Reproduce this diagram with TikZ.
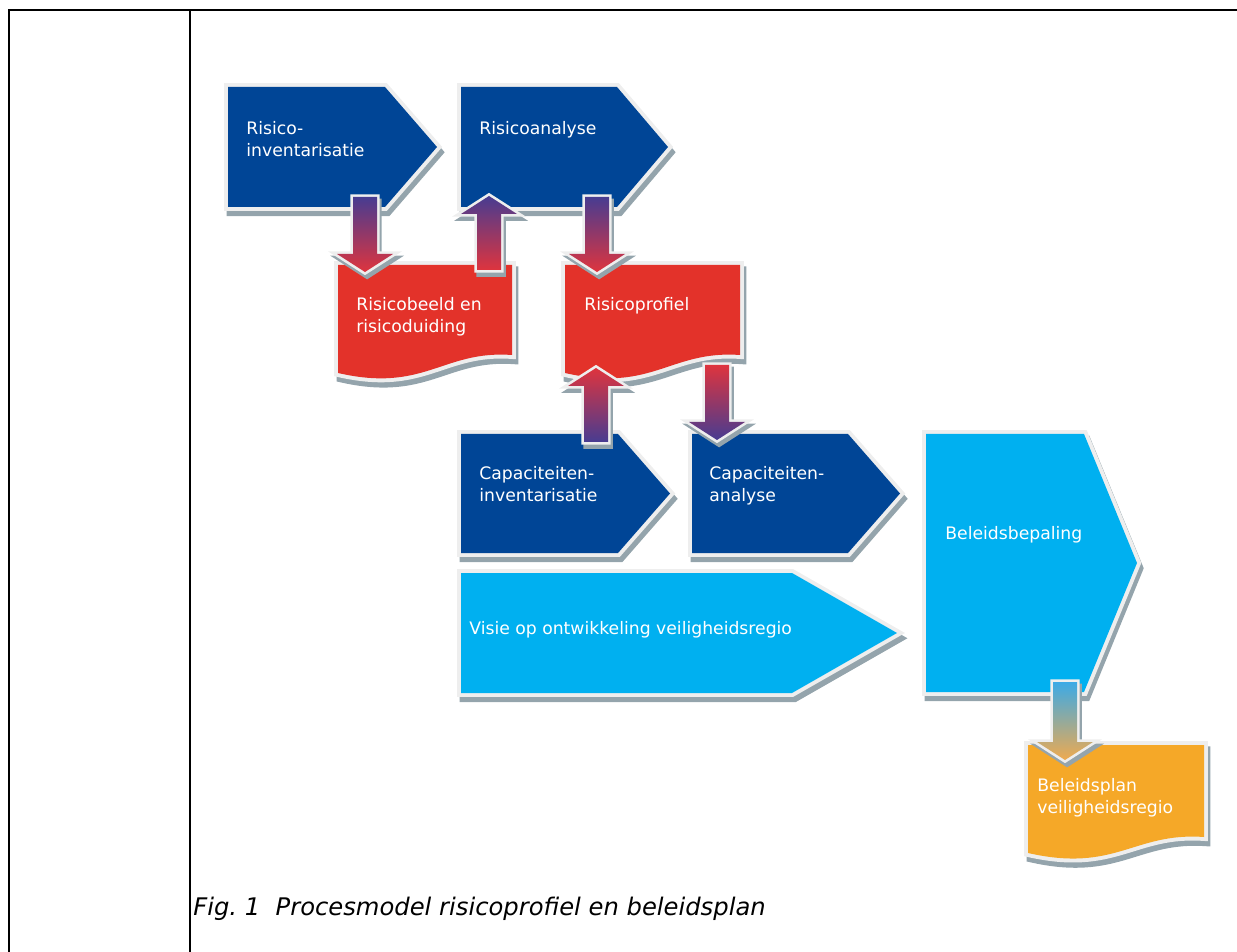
\documentclass[tikz,border=0pt]{standalone}
\usepackage{fontspec}
\setmainfont{DejaVu Sans}[ItalicFont={DejaVu Sans Oblique}]
\usepackage{xcolor}
\usetikzlibrary{calc}

\definecolor{rdblue}{RGB}{0,69,150}
\definecolor{rdred}{RGB}{227,50,42}
\definecolor{rlblue}{RGB}{0,176,240}
\definecolor{rorange}{RGB}{245,168,40}
\definecolor{rpurple}{RGB}{72,60,145}
\definecolor{rarrowred}{RGB}{222,52,62}
\definecolor{rarrowblue}{RGB}{60,170,230}
\definecolor{rarroworange}{RGB}{238,170,80}
\definecolor{rshade}{RGB}{148,164,172}
\definecolor{rrim}{RGB}{238,238,238}

% process step: left, top, start of slant, tip, bottom, colour
\newcommand{\procshape}[6]{%
  \filldraw[rshade, line width=4.5pt, line join=miter, transform canvas={xshift=1.4pt,yshift=-3pt}]
    (#1,#2) -- (#3,#2) -- (#4,{(#2+#5)/2}) -- (#3,#5) -- (#1,#5) -- cycle;
  \draw[rrim, line width=4.5pt, line join=miter]
    (#1,#2) -- (#3,#2) -- (#4,{(#2+#5)/2}) -- (#3,#5) -- (#1,#5) -- cycle;
  \fill[#6] (#1,#2) -- (#3,#2) -- (#4,{(#2+#5)/2}) -- (#3,#5) -- (#1,#5) -- cycle;
}

% document: left, top, right, bottom left, bottom right, colour
\newcommand{\docshape}[6]{%
  \filldraw[rshade, line width=4.5pt, transform canvas={xshift=1.4pt,yshift=-3pt}]
    (#1,#2) -- (#3,#2) -- (#3,#5) .. controls ({#3-0.4*(#3-#1)},{#5-5}) and ({#1+0.5*(#3-#1)},{#4+20}) .. (#1,#4) -- cycle;
  \draw[rrim, line width=4.5pt]
    (#1,#2) -- (#3,#2) -- (#3,#5) .. controls ({#3-0.4*(#3-#1)},{#5-5}) and ({#1+0.5*(#3-#1)},{#4+20}) .. (#1,#4) -- cycle;
  \fill[#6] (#1,#2) -- (#3,#2) -- (#3,#5) .. controls ({#3-0.4*(#3-#1)},{#5-5}) and ({#1+0.5*(#3-#1)},{#4+20}) .. (#1,#4) -- cycle;
}

% fat arrow: name, x, from y, to y, top colour, bottom colour
\newcommand{\fatarrow}[6]{%
  \pgfmathsetmacro{\hd}{-18*sign(#4-#3)}
  \coordinate (#1s) at (#2,#3);
  \coordinate (#1t) at (#2,#4);
  \filldraw[rshade, line width=3pt, line join=miter, transform canvas={xshift=1.2pt,yshift=-2.4pt}]
    ($(#1s)+(-12,0)$) -- ($(#1t)+(-12,\hd)$) -- ($(#1t)+(-28,\hd)$) -- (#1t)
    -- ($(#1t)+(28,\hd)$) -- ($(#1t)+(12,\hd)$) -- ($(#1s)+(12,0)$) -- cycle;
  \draw[rrim, line width=3pt, line join=miter]
    ($(#1s)+(-12,0)$) -- ($(#1t)+(-12,\hd)$) -- ($(#1t)+(-28,\hd)$) -- (#1t)
    -- ($(#1t)+(28,\hd)$) -- ($(#1t)+(12,\hd)$) -- ($(#1s)+(12,0)$) -- cycle;
  \shade[top color=#5, bottom color=#6]
    ($(#1s)+(-12,0)$) -- ($(#1t)+(-12,\hd)$) -- ($(#1t)+(-28,\hd)$) -- (#1t)
    -- ($(#1t)+(28,\hd)$) -- ($(#1t)+(12,\hd)$) -- ($(#1s)+(12,0)$) -- cycle;
}

\begin{document}
\begin{tikzpicture}[x=0.02cm, y=-0.02cm,
    lbl/.style={anchor=north west, inner sep=0pt, text=white, align=left,
      font=\fontsize{9.8}{12.5}\selectfont},
    frame/.style={line width=1.2pt}]
    \useasboundingbox (0,0) rectangle (1237,952);

    % table frame
    \draw[frame] (1237,10) -- (9,10) -- (9,952);
    \draw[frame] (190,10) -- (190,952);

    % process steps
    \procshape{228}{87}{385}{437}{207}{rdblue}
    \procshape{461}{87}{617}{668}{207}{rdblue}
    \procshape{461}{434}{618}{670}{553}{rdblue}
    \procshape{692}{434}{848}{900}{553}{rdblue}
    \procshape{461}{573}{792}{897}{693}{rlblue}
    \procshape{926}{434}{1084}{1137}{692}{rlblue}

    % documents
    \docshape{338}{265}{512}{373}{355}{rdred}
    \docshape{565}{265}{740}{373}{355}{rdred}
    \docshape{1028}{745}{1204}{853}{837}{rorange}

    % fat arrows between the steps
    \fatarrow{a}{365}{197}{272}{rpurple}{rarrowred}
    \fatarrow{b}{489}{270}{196}{rpurple}{rarrowred}
    \fatarrow{c}{597}{197}{272}{rpurple}{rarrowred}
    \fatarrow{d}{596}{442}{368}{rarrowred}{rpurple}
    \fatarrow{e}{717}{365}{440}{rarrowred}{rpurple}
    \fatarrow{f}{1065}{682}{760}{rarrowblue}{rarroworange}

    % labels
    \node[lbl] (rinv) at (246,121) {Risico-\\inventarisatie};
    \node[lbl] (rana) at (479,121) {Risicoanalyse};
    \node[lbl] (rbeeld) at (356,297) {Risicobeeld en\\risicoduiding};
    \node[lbl] (rprof) at (584,297) {Risicoprofiel};
    \node[lbl] (cinv) at (479,466) {Capaciteiten-\\inventarisatie};
    \node[lbl] (cana) at (709,466) {Capaciteiten-\\analyse};
    \node[lbl] (visie) at (469,621) {Visie op ontwikkeling veiligheidsregio};
    \node[lbl] (bbep) at (945,526) {Beleidsbepaling};
    \node[lbl] (bplan) at (1037,778) {Beleidsplan\\veiligheidsregio};

    % caption
    \node[anchor=base west, inner sep=0pt, font=\fontsize{13.8}{16}\selectfont\itshape]
      (cap) at (193,915) {Fig.~1\ \ Procesmodel risicoprofiel en beleidsplan};
\end{tikzpicture}
\end{document}
